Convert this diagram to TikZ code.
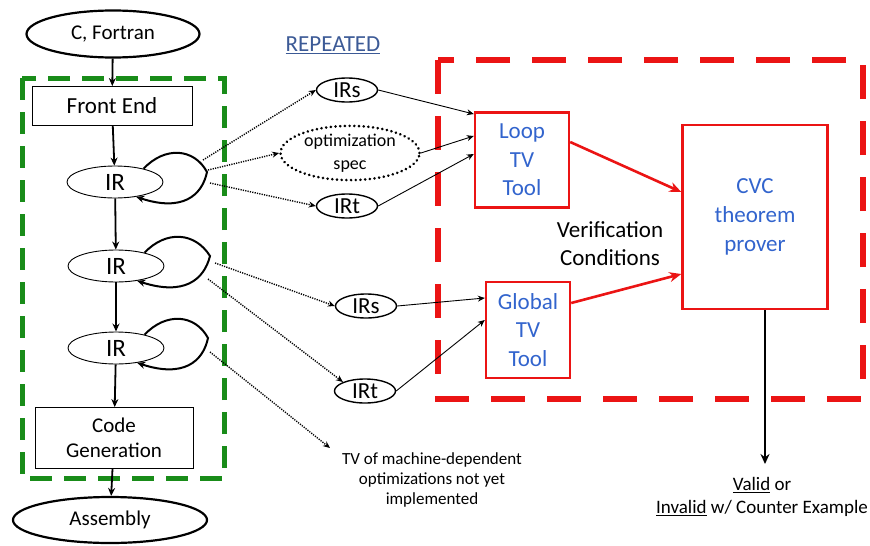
\documentclass[tikz,border=0pt]{standalone}
\usepackage{fontspec}
\setmainfont{Carlito}
\usetikzlibrary{shapes.geometric,arrows.meta}
\definecolor{dgreen}{RGB}{25,140,25}
\definecolor{vred}{RGB}{235,20,20}
\definecolor{tblue}{RGB}{50,100,205}
\definecolor{rblue}{RGB}{60,90,150}
\begin{document}
\begin{tikzpicture}[x=1pt,y=-1pt,
  every node/.style={font=\fontsize{21}{25}\selectfont, inner sep=0pt},
  bigell/.style={ellipse, draw, line width=2.2pt},
  irell/.style={ellipse, draw, line width=0.9pt, minimum width=96pt, minimum height=32pt, font=\fontsize{25}{28}\selectfont},
  smell/.style={ellipse, draw, line width=1.4pt, minimum width=61pt, minimum height=24pt, font=\fontsize{23}{26}\selectfont},
  plainbox/.style={draw, line width=0.9pt, align=center},
  redbox/.style={draw=vred, line width=2.4pt, text=tblue, align=center},
  flow/.style={line width=1.8pt, -{Stealth[length=8pt,width=7pt]}},
  selfloop/.style={line width=2pt, -{Stealth[length=8pt,width=7pt]}},
  dotarr/.style={line width=1.4pt, dash pattern=on 1.2pt off 1.2pt, -{Stealth[length=7pt,width=6pt]}},
  thinarr/.style={line width=0.9pt, -{Stealth[length=7pt,width=6pt]}},
  redarr/.style={line width=2.6pt, vred, -{Stealth[length=12pt,width=10pt]}},
]
\useasboundingbox (0,0) rectangle (870,546);

% frames
\draw[dgreen, line width=5pt, dash pattern=on 22pt off 12pt] (22,78) rectangle (224,478);
\draw[vred, line width=6pt, dash pattern=on 34pt off 22pt] (438,60) rectangle (863,399);

% left column
\node[bigell, minimum width=173pt, minimum height=47pt] (src) at (113,34) {C, Fortran};
\node[plainbox, minimum width=160pt, minimum height=39pt, font=\fontsize{23}{26}\selectfont] (fe) at (112,106) {Front End};
\node[irell] (ir1) at (115,182) {IR};
\node[irell] (ir2) at (116,266) {IR};
\node[irell] (ir3) at (116,348) {IR};
\node[plainbox, minimum width=158pt, minimum height=61pt, font=\fontsize{21}{25}\selectfont] (cg) at (114,438) {Code\\Generation};
\node[bigell, minimum width=194pt, minimum height=46pt] (asm) at (110,520) {Assembly};

\draw[flow] (src) -- (fe);
\draw[flow] (fe) -- (ir1);
\draw[flow] (ir1) -- (ir2);
\draw[flow] (ir2) -- (ir3);
\draw[flow] (ir3) -- (cg);
\draw[flow] (cg) -- (asm);

% self loops
\draw[selfloop] (ir1.25) .. controls (165,146) and (194,148) .. (207,172) .. controls (202,196) and (182,212) .. (ir1.-35);
\draw[selfloop] (ir2.25) .. controls (166,230) and (195,232) .. (210,256) .. controls (204,280) and (184,296) .. (ir2.-35);
\draw[selfloop] (ir3.25) .. controls (166,312) and (195,314) .. (208,338) .. controls (203,362) and (183,378) .. (ir3.-35);

\coordinate (l1a) at (203,160);
\coordinate (l1b) at (208,170);
\coordinate (l1c) at (210,183);
\coordinate (l2a) at (215,263);
\coordinate (l2b) at (208,279);
\coordinate (l3a) at (210,352);
\coordinate (tvend) at (330,448);

% REPEATED
\node[text=rblue, font=\fontsize{23}{26}\selectfont] (rep) at (333,45) {\underline{REPEATED}};

% middle ellipses
\node[smell] (irs1) at (347,90) {IRs};
\node[ellipse, draw, line width=2.8pt, dash pattern=on 0.1pt off 4.6pt, line cap=round, minimum width=139pt, minimum height=47pt, align=center, font=\fontsize{18}{23}\selectfont] (opt) at (350,153) {optimization\\spec};
\node[smell] (irt1) at (347,206) {IRt};
\node[smell] (irs2) at (366,306) {IRs};
\node[smell] (irt2) at (365,391) {IRt};

\node[align=center, font=\fontsize{17}{20}\selectfont] (tvtxt) at (432,480) {TV of machine-dependent\\optimizations not yet\\implemented};

\draw[dotarr] (l1a) -- (irs1.west);
\draw[dotarr] (l1b) -- (opt.west);
\draw[dotarr] (l1c) -- (irt1.west);
\draw[dotarr] (l2a) -- (irs2.west);
\draw[dotarr] (l2b) -- (irt2.north west);
\draw[dotarr] (l3a) -- (tvend);

% red frame content
\node[redbox, minimum width=94pt, minimum height=95pt, font=\fontsize{23}{28.5}\selectfont] (loop) at (522,160) {Loop\\TV\\Tool};
\node[redbox, minimum width=84pt, minimum height=96pt, font=\fontsize{23}{28.5}\selectfont] (glob) at (528,330) {Global\\TV\\Tool};
\node[redbox, minimum width=145pt, minimum height=184pt, font=\fontsize{23}{29}\selectfont] (cvc) at (755,217) {CVC\\theorem\\prover};
\node[align=center, font=\fontsize{23}{28}\selectfont] (vc) at (610,244) {Verification\\Conditions};

\draw[thinarr] (irs1.east) -- (loop.north west |- 0,114);
\draw[thinarr] (opt.east) -- (loop.west |- 0,136);
\draw[thinarr] (irt1.east) -- (loop.west |- 0,154);
\draw[thinarr] (irs2.east) -- (glob.west |- 0,298);
\draw[thinarr] (irt2.east) -- (glob.west |- 0,320);

\draw[redarr] (loop.east |- 0,142) -- (cvc.west |- 0,192);
\draw[redarr] (glob.east |- 0,303) -- (cvc.west |- 0,274);

% output
\coordinate (outend) at (765,464);
\draw[line width=2.2pt, -{Stealth[length=10pt,width=9pt]}] (cvc.south -| outend) -- (outend);
\node[align=center, font=\fontsize{19}{23}\selectfont] (res) at (762,497) {\underline{Valid} or\\\underline{Invalid} w/ Counter Example};

\end{tikzpicture}
\end{document}
